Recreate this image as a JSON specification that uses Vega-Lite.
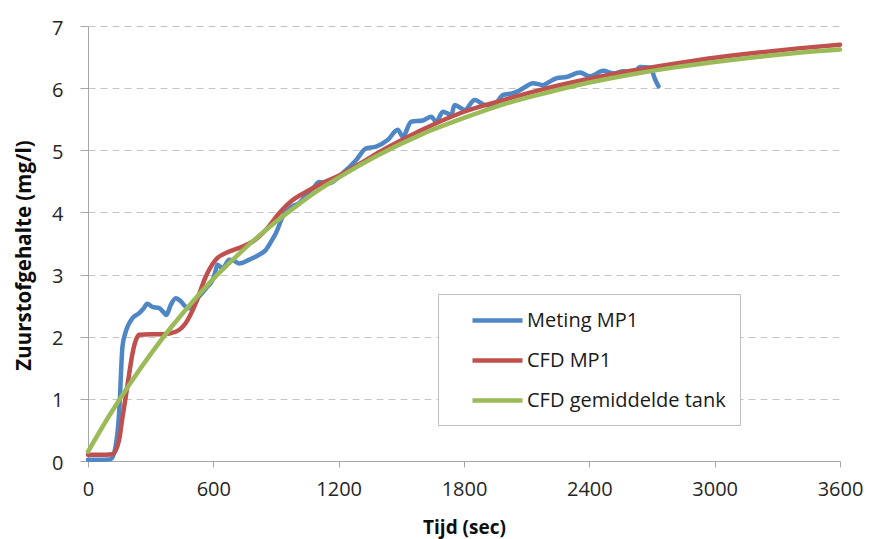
{
  "$schema": "https://vega.github.io/schema/vega-lite/v6.json",
  "width": 752,
  "height": 435,
  "autosize": {"type": "none"},
  "padding": {"left": 88, "top": 26, "right": 29, "bottom": 78},
  "background": "white",
  "config": {
    "view": {"stroke": null},
    "font": "Open Sans",
    "axis": {"labelFont": "Open Sans", "titleFont": "Open Sans", "labelColor": "#262626", "titleColor": "#0d0d0d"}
  },
  "data": {"values": [
    {"s": "Meting MP1", "t": 0, "v": 0.02},
    {"s": "Meting MP1", "t": 60, "v": 0.02},
    {"s": "Meting MP1", "t": 110, "v": 0.03},
    {"s": "Meting MP1", "t": 130, "v": 0.2},
    {"s": "Meting MP1", "t": 149, "v": 0.77},
    {"s": "Meting MP1", "t": 165, "v": 1.84},
    {"s": "Meting MP1", "t": 178, "v": 2.05},
    {"s": "Meting MP1", "t": 189, "v": 2.16},
    {"s": "Meting MP1", "t": 213, "v": 2.30},
    {"s": "Meting MP1", "t": 245, "v": 2.38},
    {"s": "Meting MP1", "t": 265, "v": 2.45},
    {"s": "Meting MP1", "t": 284, "v": 2.53},
    {"s": "Meting MP1", "t": 308, "v": 2.48},
    {"s": "Meting MP1", "t": 341, "v": 2.46},
    {"s": "Meting MP1", "t": 360, "v": 2.40},
    {"s": "Meting MP1", "t": 375, "v": 2.35},
    {"s": "Meting MP1", "t": 396, "v": 2.51},
    {"s": "Meting MP1", "t": 420, "v": 2.62},
    {"s": "Meting MP1", "t": 444, "v": 2.57},
    {"s": "Meting MP1", "t": 468, "v": 2.48},
    {"s": "Meting MP1", "t": 484, "v": 2.46},
    {"s": "Meting MP1", "t": 508, "v": 2.56},
    {"s": "Meting MP1", "t": 540, "v": 2.68},
    {"s": "Meting MP1", "t": 570, "v": 2.80},
    {"s": "Meting MP1", "t": 596, "v": 2.91},
    {"s": "Meting MP1", "t": 610, "v": 3.05},
    {"s": "Meting MP1", "t": 620, "v": 3.16},
    {"s": "Meting MP1", "t": 644, "v": 3.10},
    {"s": "Meting MP1", "t": 676, "v": 3.24},
    {"s": "Meting MP1", "t": 700, "v": 3.22},
    {"s": "Meting MP1", "t": 724, "v": 3.18},
    {"s": "Meting MP1", "t": 772, "v": 3.24},
    {"s": "Meting MP1", "t": 820, "v": 3.32},
    {"s": "Meting MP1", "t": 852, "v": 3.40},
    {"s": "Meting MP1", "t": 880, "v": 3.55},
    {"s": "Meting MP1", "t": 900, "v": 3.67},
    {"s": "Meting MP1", "t": 932, "v": 3.93},
    {"s": "Meting MP1", "t": 980, "v": 4.10},
    {"s": "Meting MP1", "t": 1011, "v": 4.15},
    {"s": "Meting MP1", "t": 1044, "v": 4.28},
    {"s": "Meting MP1", "t": 1080, "v": 4.40},
    {"s": "Meting MP1", "t": 1107, "v": 4.49},
    {"s": "Meting MP1", "t": 1155, "v": 4.47},
    {"s": "Meting MP1", "t": 1219, "v": 4.63},
    {"s": "Meting MP1", "t": 1283, "v": 4.84},
    {"s": "Meting MP1", "t": 1331, "v": 5.03},
    {"s": "Meting MP1", "t": 1379, "v": 5.06},
    {"s": "Meting MP1", "t": 1436, "v": 5.17},
    {"s": "Meting MP1", "t": 1483, "v": 5.33},
    {"s": "Meting MP1", "t": 1507, "v": 5.22},
    {"s": "Meting MP1", "t": 1547, "v": 5.46},
    {"s": "Meting MP1", "t": 1603, "v": 5.48},
    {"s": "Meting MP1", "t": 1643, "v": 5.54},
    {"s": "Meting MP1", "t": 1667, "v": 5.46},
    {"s": "Meting MP1", "t": 1699, "v": 5.62},
    {"s": "Meting MP1", "t": 1739, "v": 5.57},
    {"s": "Meting MP1", "t": 1755, "v": 5.73},
    {"s": "Meting MP1", "t": 1803, "v": 5.65},
    {"s": "Meting MP1", "t": 1851, "v": 5.81},
    {"s": "Meting MP1", "t": 1899, "v": 5.73},
    {"s": "Meting MP1", "t": 1939, "v": 5.71},
    {"s": "Meting MP1", "t": 1987, "v": 5.89},
    {"s": "Meting MP1", "t": 2035, "v": 5.92},
    {"s": "Meting MP1", "t": 2075, "v": 5.98},
    {"s": "Meting MP1", "t": 2131, "v": 6.08},
    {"s": "Meting MP1", "t": 2179, "v": 6.05},
    {"s": "Meting MP1", "t": 2203, "v": 6.09},
    {"s": "Meting MP1", "t": 2243, "v": 6.16},
    {"s": "Meting MP1", "t": 2291, "v": 6.18},
    {"s": "Meting MP1", "t": 2355, "v": 6.25},
    {"s": "Meting MP1", "t": 2403, "v": 6.19},
    {"s": "Meting MP1", "t": 2467, "v": 6.28},
    {"s": "Meting MP1", "t": 2515, "v": 6.24},
    {"s": "Meting MP1", "t": 2563, "v": 6.27},
    {"s": "Meting MP1", "t": 2611, "v": 6.24},
    {"s": "Meting MP1", "t": 2643, "v": 6.34},
    {"s": "Meting MP1", "t": 2691, "v": 6.33},
    {"s": "Meting MP1", "t": 2715, "v": 6.14},
    {"s": "Meting MP1", "t": 2731, "v": 6.03},
    {"s": "CFD MP1", "t": 0, "v": 0.1},
    {"s": "CFD MP1", "t": 60, "v": 0.1},
    {"s": "CFD MP1", "t": 117, "v": 0.11},
    {"s": "CFD MP1", "t": 149, "v": 0.34},
    {"s": "CFD MP1", "t": 165, "v": 0.7},
    {"s": "CFD MP1", "t": 181, "v": 1.04},
    {"s": "CFD MP1", "t": 197, "v": 1.4},
    {"s": "CFD MP1", "t": 213, "v": 1.73},
    {"s": "CFD MP1", "t": 230, "v": 1.95},
    {"s": "CFD MP1", "t": 245, "v": 2.03},
    {"s": "CFD MP1", "t": 300, "v": 2.04},
    {"s": "CFD MP1", "t": 360, "v": 2.04},
    {"s": "CFD MP1", "t": 420, "v": 2.08},
    {"s": "CFD MP1", "t": 468, "v": 2.22},
    {"s": "CFD MP1", "t": 516, "v": 2.54},
    {"s": "CFD MP1", "t": 564, "v": 2.97},
    {"s": "CFD MP1", "t": 612, "v": 3.24},
    {"s": "CFD MP1", "t": 676, "v": 3.37},
    {"s": "CFD MP1", "t": 740, "v": 3.45},
    {"s": "CFD MP1", "t": 788, "v": 3.53},
    {"s": "CFD MP1", "t": 852, "v": 3.72},
    {"s": "CFD MP1", "t": 916, "v": 3.99},
    {"s": "CFD MP1", "t": 980, "v": 4.20},
    {"s": "CFD MP1", "t": 1060, "v": 4.36},
    {"s": "CFD MP1", "t": 1140, "v": 4.50},
    {"s": "CFD MP1", "t": 1200, "v": 4.59},
    {"s": "CFD MP1", "t": 1300, "v": 4.78},
    {"s": "CFD MP1", "t": 1400, "v": 4.98},
    {"s": "CFD MP1", "t": 1500, "v": 5.16},
    {"s": "CFD MP1", "t": 1600, "v": 5.33},
    {"s": "CFD MP1", "t": 1800, "v": 5.62},
    {"s": "CFD MP1", "t": 2000, "v": 5.82},
    {"s": "CFD MP1", "t": 2200, "v": 6.00},
    {"s": "CFD MP1", "t": 2400, "v": 6.15},
    {"s": "CFD MP1", "t": 2600, "v": 6.28},
    {"s": "CFD MP1", "t": 2800, "v": 6.39},
    {"s": "CFD MP1", "t": 3000, "v": 6.49},
    {"s": "CFD MP1", "t": 3200, "v": 6.57},
    {"s": "CFD MP1", "t": 3400, "v": 6.64},
    {"s": "CFD MP1", "t": 3600, "v": 6.70},
    {"s": "CFD gemiddelde tank", "t": 0, "v": 0.15},
    {"s": "CFD gemiddelde tank", "t": 100, "v": 0.72},
    {"s": "CFD gemiddelde tank", "t": 200, "v": 1.24},
    {"s": "CFD gemiddelde tank", "t": 300, "v": 1.72},
    {"s": "CFD gemiddelde tank", "t": 400, "v": 2.16},
    {"s": "CFD gemiddelde tank", "t": 500, "v": 2.56},
    {"s": "CFD gemiddelde tank", "t": 600, "v": 2.93},
    {"s": "CFD gemiddelde tank", "t": 700, "v": 3.26},
    {"s": "CFD gemiddelde tank", "t": 800, "v": 3.57},
    {"s": "CFD gemiddelde tank", "t": 900, "v": 3.85},
    {"s": "CFD gemiddelde tank", "t": 1000, "v": 4.11},
    {"s": "CFD gemiddelde tank", "t": 1100, "v": 4.35},
    {"s": "CFD gemiddelde tank", "t": 1200, "v": 4.56},
    {"s": "CFD gemiddelde tank", "t": 1400, "v": 4.94},
    {"s": "CFD gemiddelde tank", "t": 1600, "v": 5.26},
    {"s": "CFD gemiddelde tank", "t": 1800, "v": 5.52},
    {"s": "CFD gemiddelde tank", "t": 2000, "v": 5.75},
    {"s": "CFD gemiddelde tank", "t": 2200, "v": 5.93},
    {"s": "CFD gemiddelde tank", "t": 2400, "v": 6.09},
    {"s": "CFD gemiddelde tank", "t": 2600, "v": 6.22},
    {"s": "CFD gemiddelde tank", "t": 2800, "v": 6.33},
    {"s": "CFD gemiddelde tank", "t": 3000, "v": 6.42},
    {"s": "CFD gemiddelde tank", "t": 3200, "v": 6.50},
    {"s": "CFD gemiddelde tank", "t": 3400, "v": 6.57},
    {"s": "CFD gemiddelde tank", "t": 3600, "v": 6.62}
  ]},
  "mark": {"type": "line", "strokeWidth": 4.5, "strokeJoin": "round", "strokeCap": "round", "interpolate": "monotone"},
  "encoding": {
    "x": {
      "field": "t", "type": "quantitative",
      "scale": {"domain": [0, 3600], "nice": false},
      "axis": {
        "values": [0, 600, 1200, 1800, 2400, 3000, 3600], "format": "d",
        "title": "Tijd (sec)", "titleFontSize": 19, "titleFontWeight": "bold", "titlePadding": 19,
        "labelFontSize": 20, "labelPadding": 12, "tickSize": 6,
        "grid": false, "domainColor": "#a6a6a6", "tickColor": "#a6a6a6",
        "labelFlush": false
      }
    },
    "y": {
      "field": "v", "type": "quantitative",
      "scale": {"domain": [0, 7], "nice": false},
      "axis": {
        "values": [0, 1, 2, 3, 4, 5, 6, 7],
        "title": "Zuurstofgehalte (mg/l)", "titleFontSize": 20.5, "titleFontWeight": "bold", "titlePadding": 17,
        "titleY": 229,
        "labelFontSize": 20, "labelPadding": 17, "tickSize": 8, "labelOffset": 2,
        "grid": true, "gridDash": [7, 5], "gridColor": "#c4c4c4", "gridWidth": 1,
        "domainColor": "#a6a6a6", "tickColor": "#a6a6a6",
        "labelFlush": false
      }
    },
    "color": {
      "field": "s", "type": "nominal",
      "scale": {"domain": ["Meting MP1", "CFD MP1", "CFD gemiddelde tank"], "range": ["#4F86C6", "#C0504D", "#9BBB59"]},
      "legend": {
        "title": null, "orient": "none", "legendX": 350, "legendY": 268,
        "symbolType": "M-2.5,0H2.5", "symbolSize": 400, "symbolStrokeWidth": 4.5,
        "symbolOffset": 33,
        "labelFontSize": 20, "labelColor": "#1a1a1a", "labelFont": "Open Sans", "labelOffset": 17,
        "labelLimit": 400,
        "rowPadding": 17, "padding": 14,
        "strokeColor": "#bfbfbf", "fillColor": "white"
      }
    }
  }
}
